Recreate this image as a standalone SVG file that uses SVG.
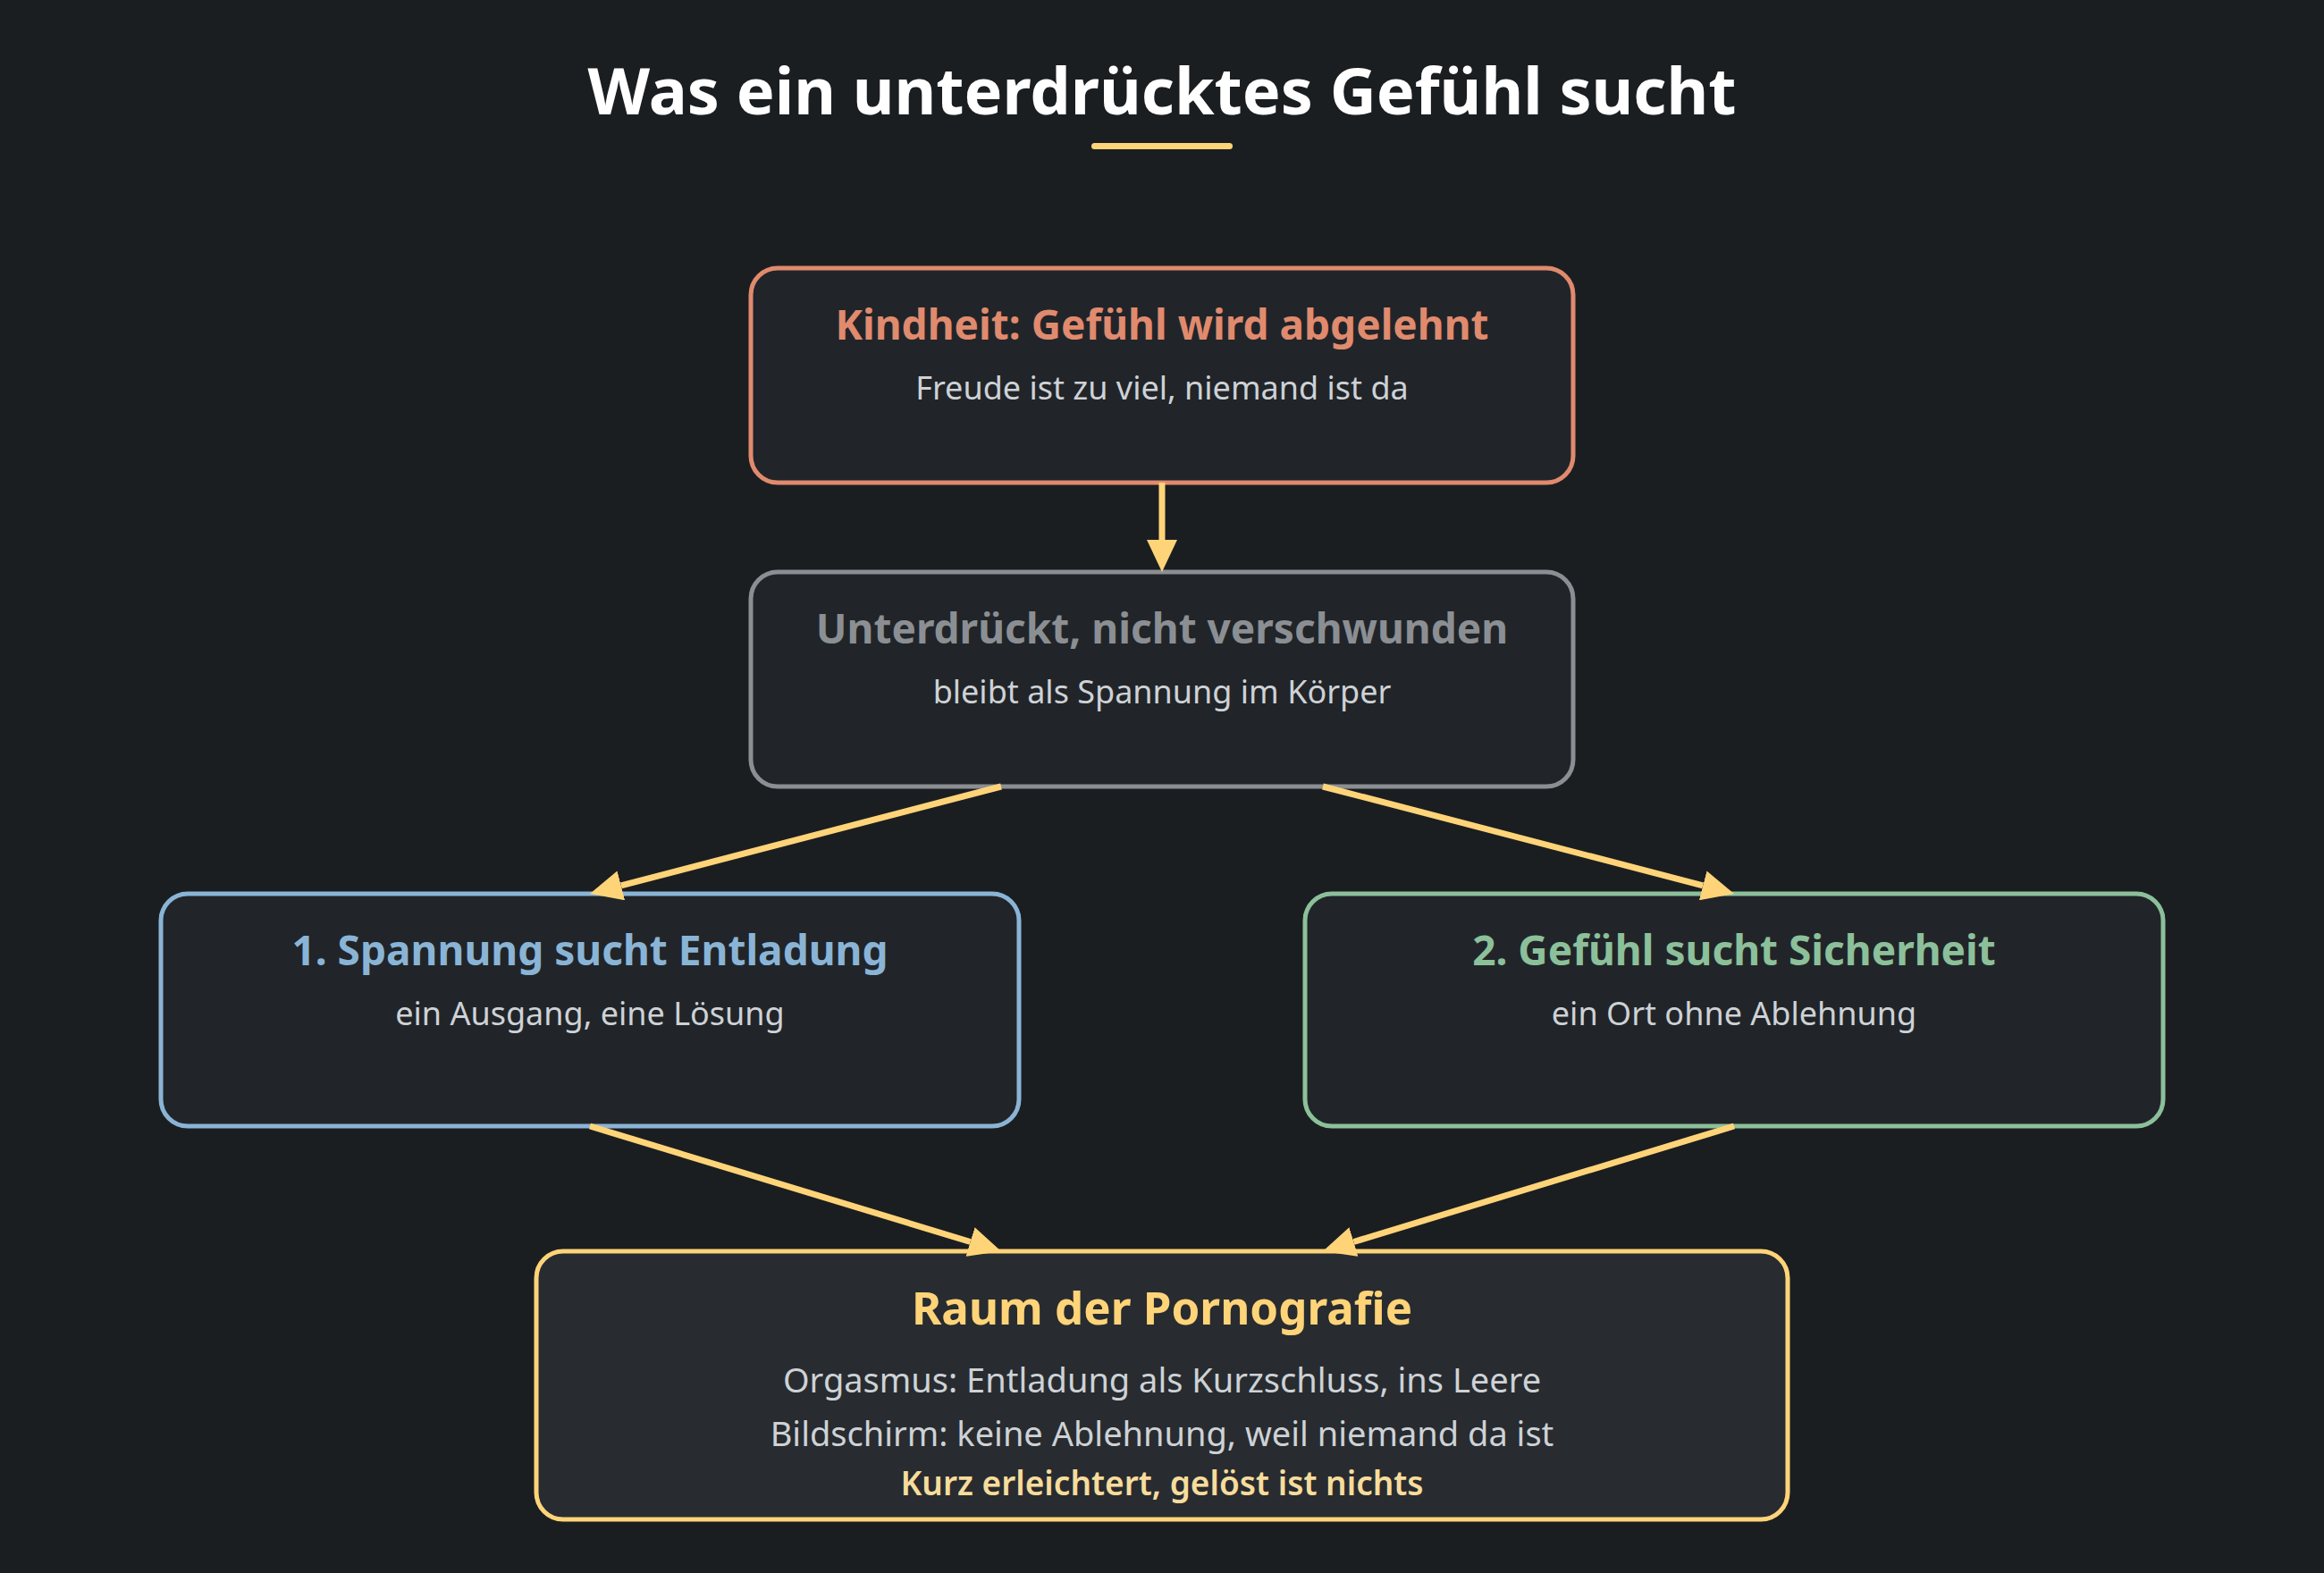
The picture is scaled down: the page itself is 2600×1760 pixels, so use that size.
<svg xmlns="http://www.w3.org/2000/svg" width="2600" height="1760" viewBox="0 0 2600 1760">
<defs>
<style>
.bg{fill:#1b1e21}
.node{fill:#212529;stroke-width:5}
.t{font-family:"Noto Sans",Lato,"Liberation Sans",sans-serif;font-weight:700;font-size:46px;text-anchor:middle}
.s{font-family:"Noto Sans",Lato,"Liberation Sans",sans-serif;font-weight:400;font-size:36px;text-anchor:middle;fill:#ced2d6}
.conn{stroke:#ffd479;stroke-width:7;fill:none}
</style>
<marker id="ah" markerUnits="userSpaceOnUse" markerWidth="38" markerHeight="34" refX="0" refY="17" orient="auto" viewBox="0 0 38 34">
<path d="M0,0 L36,17 L0,34 z" fill="#ffd479"/>
</marker>
</defs>
<rect class="bg" x="0" y="0" width="2600" height="1760"/>
<g id="title">
<text x="1300" y="128" font-family="'Noto Sans',Lato,'Liberation Sans',sans-serif" font-weight="700" font-size="72" fill="#ffffff" text-anchor="middle">Was ein unterdrücktes Gefühl sucht</text>
<rect x="1221" y="160" width="158" height="7" rx="3.5" fill="#ffd479"/>
</g>
<g id="n1">
<rect class="node" x="840" y="300" width="920" height="240" rx="30" stroke="#e08a6e"/>
<text class="t" x="1300" y="380" fill="#e08a6e">Kindheit: Gefühl wird abgelehnt</text>
<text class="s" x="1300" y="447">Freude ist zu viel, niemand ist da</text>
</g>
<g id="n2">
<rect class="node" x="840" y="640" width="920" height="240" rx="30" stroke="#8b8f93"/>
<text class="t" x="1300" y="720" fill="#8b8f93">Unterdrückt, nicht verschwunden</text>
<text class="s" x="1300" y="787">bleibt als Spannung im Körper</text>
</g>
<g id="n3">
<rect class="node" x="180" y="1000" width="960" height="260" rx="30" stroke="#8ab4d6"/>
<text class="t" x="660" y="1080" fill="#8ab4d6">1. Spannung sucht Entladung</text>
<text class="s" x="660" y="1147">ein Ausgang, eine Lösung</text>
</g>
<g id="n4">
<rect class="node" x="1460" y="1000" width="960" height="260" rx="30" stroke="#8cc09a"/>
<text class="t" x="1940" y="1080" fill="#8cc09a">2. Gefühl sucht Sicherheit</text>
<text class="s" x="1940" y="1147">ein Ort ohne Ablehnung</text>
</g>
<g id="n5">
<rect class="node" x="600" y="1400" width="1400" height="300" rx="30" stroke="#ffd479" style="fill:#282c30"/>
<text class="t" x="1300" y="1482" fill="#ffd479" style="font-size:51px">Raum der Pornografie</text>
<text class="s" x="1300" y="1558" style="font-size:38px">Orgasmus: Entladung als Kurzschluss, ins Leere</text>
<text class="s" x="1300" y="1618" style="font-size:38px">Bildschirm: keine Ablehnung, weil niemand da ist</text>
<text class="s" x="1300" y="1673" style="fill:#f7dc9c;font-weight:600;font-size:37px">Kurz erleichtert, gelöst ist nichts</text>
</g>
<g id="connectors">
<line class="conn" x1="1300" y1="540" x2="1300" y2="604" marker-end="url(#ah)"/>
<line class="conn" x1="1120" y1="880" x2="694.8" y2="990.9" marker-end="url(#ah)"/>
<line class="conn" x1="1480" y1="880" x2="1905.2" y2="990.9" marker-end="url(#ah)"/>
<line class="conn" x1="660" y1="1260" x2="1085.6" y2="1389.5" marker-end="url(#ah)"/>
<line class="conn" x1="1940" y1="1260" x2="1514.4" y2="1389.5" marker-end="url(#ah)"/>
</g>
</svg>
